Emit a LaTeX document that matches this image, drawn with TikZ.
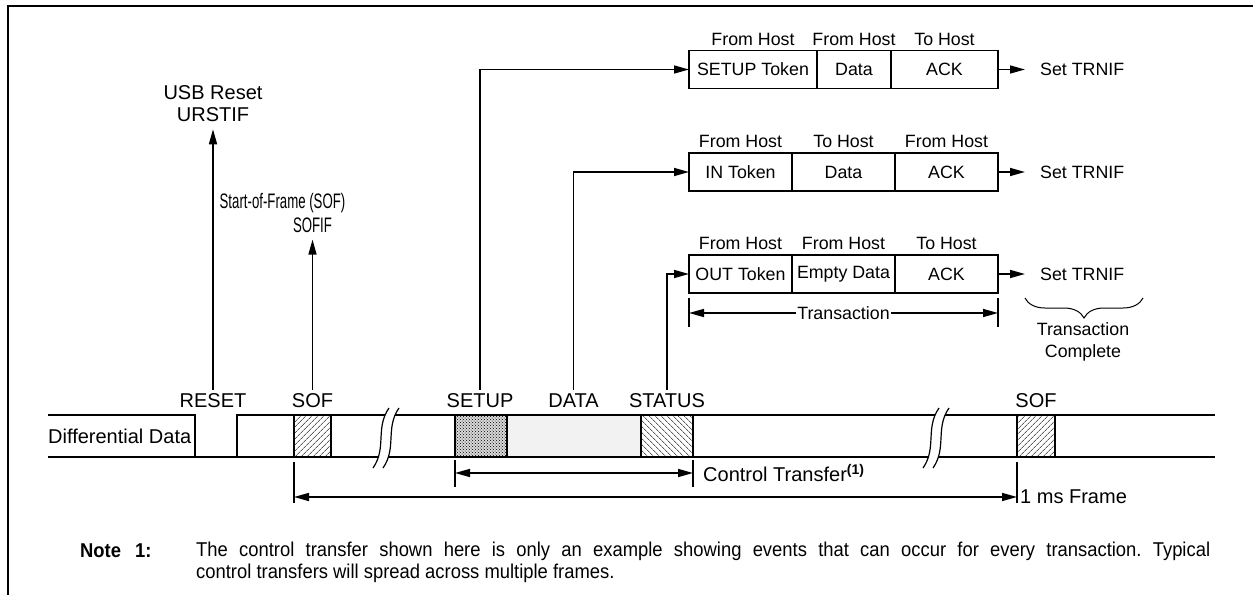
\documentclass[tikz,border=0pt]{standalone}
\usepackage{fontspec}
\setmainfont{Liberation Sans}
\newfontfamily\narrowfont[FakeStretch=0.63]{Liberation Sans}
\newfontfamily\notefont[FakeStretch=0.92]{Liberation Sans}
\usetikzlibrary{arrows.meta,positioning,patterns,patterns.meta,decorations.pathreplacing}
\frenchspacing

\begin{document}
\begin{tikzpicture}[
  x=1pt, y=-1pt,
  font=\fontsize{17.8}{22}\selectfont,
  big/.style={font=\fontsize{20}{22}\selectfont},
  sig/.style={line width=1.6pt},
  arr/.style={-{Triangle[length=15pt,width=8pt]}, line width=1.6pt},
  dim/.style={{Triangle[length=15pt,width=8pt]}-{Triangle[length=15pt,width=8pt]}, line width=1.6pt},
  cell/.style={rectangle, draw, line width=1.6pt, minimum height=38pt, inner sep=0pt, outer sep=0pt},
  hdr/.style={inner sep=0pt},
  slot/.style={rectangle, draw, line width=1.6pt, minimum height=42pt, inner sep=0pt, outer sep=0pt},
  evt/.style={big, inner sep=3pt},
  toplbl/.style={big, align=center, inner sep=7pt}
]
\useasboundingbox (0,0) rectangle (1253,595);
\draw[line width=2.5pt] (8,595) -- (8,6) -- (1253,6);

% signal band
\node[big, anchor=west, inner sep=0pt] (diff) at (48,436) {Differential Data};
\draw[sig] (48,415) -- (195,415) -- (195,457);
\draw[sig] (237,457) -- (237,415) -- (1215,415);
\draw[sig] (48,457) -- (1215,457);

\node[slot, pattern={Lines[angle=45,distance=4pt,line width=0.6pt]}, minimum width=37pt] (sof1) at (312.5,436) {};
\node[slot, fill=gray!30, postaction={pattern=crosshatch dots}, minimum width=52pt] (setup) at (481,436) {};
\node[slot, fill=gray!10, minimum width=134pt, right=0pt of setup] (data) {};
\node[slot, pattern={Lines[angle=-45,distance=4pt,line width=0.6pt]}, minimum width=52pt, right=0pt of data] (status) {};
\node[slot, pattern={Lines[angle=45,distance=4pt,line width=0.6pt]}, minimum width=38pt] (sof2) at (1036,436) {};

% breaks
\foreach \bx in {373,923} {
  \fill[white] (\bx,468) .. controls (\bx+14,448) and (\bx+2,428) .. (\bx+16,408)
    -- (\bx+26,408) .. controls (\bx+12,428) and (\bx+24,448) .. (\bx+10,468) -- cycle;
  \draw[line width=1.2pt] (\bx,468) .. controls (\bx+14,448) and (\bx+2,428) .. (\bx+16,408);
  \draw[line width=1.2pt] (\bx+10,468) .. controls (\bx+24,448) and (\bx+12,428) .. (\bx+26,408);
}

% event labels
\node[evt, anchor=base] (resetl) at (213,407) {RESET};
\node[evt, anchor=base] (sofl) at (312.5,407) {SOF};
\node[evt, anchor=base] (setupl) at (480,407) {SETUP};
\node[evt, anchor=base] (datal) at (573.5,407) {DATA};
\node[evt, anchor=base] (statusl) at (667,407) {STATUS};
\node[evt, anchor=base] (sof2l) at (1036,407) {SOF};

% interrupt flags
\node[toplbl] (usbrst) at (213,104) {USB Reset\\URSTIF};
\node[inner sep=0pt, font=\fontsize{21}{22}\narrowfont] (sofname) at (282.5,203) {Start-of-Frame (SOF)};
\node[toplbl, font=\fontsize{21}{22}\narrowfont] (sofif) at (312.5,225) {SOFIF};
\draw[arr] (resetl) -- (usbrst);
\draw[arr] (sofl) -- (sofif);

% transactions
\node[cell, minimum width=128pt, anchor=west] (s1) at (689,69.5) {SETUP Token};
\node[cell, minimum width=74pt, right=0pt of s1] (s2) {Data};
\node[cell, minimum width=107pt, right=0pt of s2] (s3) {ACK};
\node[hdr, above=5pt of s1] (hs1) {From Host};
\node[hdr, above=5pt of s2] (hs2) {From Host};
\node[hdr, above=5pt of s3] (hs3) {To Host};

\node[cell, minimum width=103pt, anchor=west] (i1) at (689,172) {IN Token};
\node[cell, minimum width=103pt, right=0pt of i1] (i2) {Data};
\node[cell, minimum width=103pt, right=0pt of i2] (i3) {ACK};
\node[hdr, above=5pt of i1] (hi1) {From Host};
\node[hdr, above=5pt of i2] (hi2) {To Host};
\node[hdr, above=5pt of i3] (hi3) {From Host};

\node[cell, minimum width=103pt, anchor=west] (o1) at (689,274) {OUT Token};
\node[cell, minimum width=103pt, right=0pt of o1] (o2) {Empty Data};
\node[cell, minimum width=103pt, right=0pt of o2] (o3) {ACK};
\node[hdr, above=5pt of o1] (ho1) {From Host};
\node[hdr, above=5pt of o2] (ho2) {From Host};
\node[hdr, above=5pt of o3] (ho3) {To Host};

\draw[arr] (setupl) |- (s1);
\draw[arr] (datal) |- (i1);
\draw[arr] (statusl) |- (o1);

\node[anchor=west, inner sep=0pt] (set1) at (1040,69.5) {Set TRNIF};
\node[anchor=west, inner sep=0pt] (set2) at (1040,172) {Set TRNIF};
\node[anchor=west, inner sep=0pt] (set3) at (1040,274) {Set TRNIF};
\draw[arr, shorten >=15pt] (s3) -- (set1);
\draw[arr, shorten >=15pt] (i3) -- (set2);
\draw[arr, shorten >=15pt] (o3) -- (set3);

% transaction span
\coordinate (trny) at (0,313);
\draw[sig] ([yshift=-5pt]o1.south west) -- ([yshift=-34pt]o1.south west);
\draw[sig] ([yshift=-5pt]o3.south east) -- ([yshift=-34pt]o3.south east);
\draw[dim] (o1.south west |- trny) -- (o3.south east |- trny)
  node[midway, fill=white, inner sep=1pt] (trn) {Transaction};
\draw[line width=1pt, decorate, decoration={brace, amplitude=20pt, mirror}] (1025,298) -- (1143,298);
\node[align=center, inner sep=0pt] (trndone) at (1083,342) {Transaction\\Complete};

% control transfer and frame
\coordinate (ctly) at (0,473);
\coordinate (frmy) at (0,497);
\draw[sig] ([yshift=-3pt]setup.south west) -- ([yshift=-30pt]setup.south west);
\draw[sig] ([yshift=-3pt]status.south east) -- ([yshift=-30pt]status.south east);
\draw[dim] (setup.south west |- ctly) -- (status.south east |- ctly);
\node[big, anchor=west, inner sep=0pt] (ctl) at ([xshift=10pt]status.south east |- ctly) {Control Transfer\textsuperscript{\bfseries(1)}};
\draw[sig] ([yshift=-5pt]sof1.south west) -- ([yshift=-46pt]sof1.south west);
\draw[sig] ([yshift=-5pt]sof2.south west) -- ([yshift=-46pt]sof2.south west);
\draw[dim] (sof1.south west |- frmy) -- (sof2.south west |- frmy);
\node[big, anchor=west, inner sep=0pt] (frm) at ([xshift=3pt]sof2.south west |- frmy) {1 ms Frame};

% note
\node[anchor=base west, inner sep=0pt, font=\fontsize{20}{22}\notefont\bfseries] (notel) at (80,557) {Note\hspace{14pt}1:};
\node[anchor=north west, inner sep=0pt, text width=1014pt, align=justify, font=\fontsize{20}{22}\notefont] (notet) at (196,542) {The control transfer shown here is only an example showing events that can occur for every transaction. Typical\linebreak control transfers will spread across multiple frames.};
\end{tikzpicture}
\end{document}
